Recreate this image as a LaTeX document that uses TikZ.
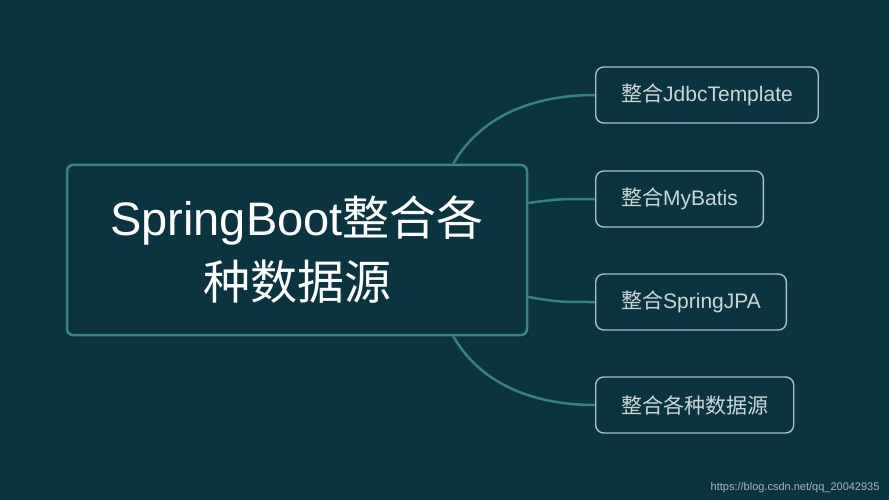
\documentclass[tikz,border=0pt]{standalone}
\usepackage{fontspec}
\setmainfont{Noto Sans CJK SC}
\newfontfamily\latinf{Liberation Sans}
\usetikzlibrary{calc}
\definecolor{bg}{RGB}{10,53,64}
\definecolor{mainborder}{RGB}{58,132,130}
\definecolor{link}{RGB}{56,130,124}
\definecolor{subborder}{RGB}{170,192,192}
\definecolor{subtext}{RGB}{202,214,214}
\definecolor{wm}{RGB}{170,180,182}
\tikzset{
  mainbox/.style={draw=mainborder, line width=2.5pt, rounded corners=6pt, fill=bg,
    minimum width=460pt, minimum height=170pt, text=white, align=center,
    font=\fontsize{47}{64}\selectfont, inner sep=0pt},
  subbox/.style={draw=subborder, line width=1.4pt, rounded corners=8pt, fill=bg,
    minimum height=56pt, inner xsep=25.5pt, inner ysep=0pt, anchor=west,
    text=subtext, font=\fontsize{21}{25}\selectfont},
  linkline/.style={draw=link, line width=2.5pt},
}
\begin{document}
\begin{tikzpicture}[x=1pt,y=-1pt]
\fill[bg] (0,0) rectangle (889,500);
\useasboundingbox (0,0) rectangle (889,500);
\node[mainbox] (main) at (297,250) {{\latinf SpringBoot}整合各\\种数据源};
\node[subbox] (s1) at (595,95) {整合{\latinf JdbcTemplate}};
\node[subbox] (s2) at (595,199) {整合{\latinf MyBatis}};
\node[subbox] (s3) at (595,302) {整合{\latinf SpringJPA}};
\node[subbox] (s4) at (595,405) {整合各种数据源};
\coordinate (t1) at ($(main.north east)+(-75,0)$);
\coordinate (t4) at ($(main.south east)+(-75,0)$);
\coordinate (t2) at ($(main.east)+(0,-47)$);
\coordinate (t3) at ($(main.east)+(0,47)$);
\draw[linkline] (t1) .. controls ($(t1)+(30,-52)$) and ($(s1.west)+(-55,0)$) .. (s1.west);
\draw[linkline] (t2) .. controls ($(t2)+(30,-4)$) .. (s2.west);
\draw[linkline] (t3) .. controls ($(t3)+(30,5)$) .. (s3.west);
\draw[linkline] (t4) .. controls ($(t4)+(30,52)$) and ($(s4.west)+(-55,0)$) .. (s4.west);
\node[text=wm, font=\latinf\fontsize{11}{13}\selectfont, anchor=east] (wmark) at (883,488) {https://blog.csdn.net/qq\_20042935};
\end{tikzpicture}
\end{document}
